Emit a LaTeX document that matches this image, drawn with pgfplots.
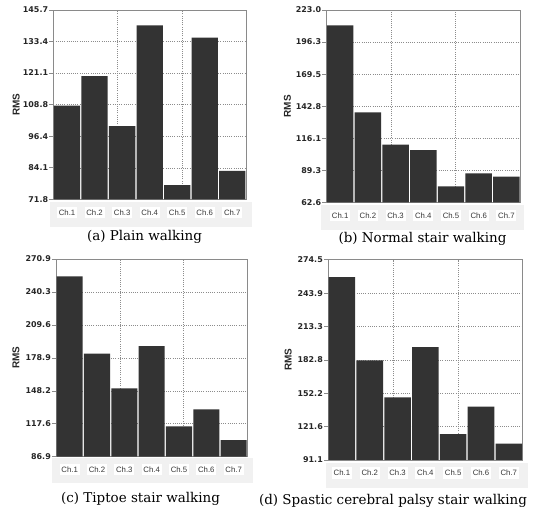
\documentclass[border=0pt]{standalone}
\usepackage{pgfplots}
\pgfplotsset{compat=1.18}
\usepackage{fontspec}
\setmainfont{DejaVu Serif}
\newfontfamily\tickf{DejaVu Sans}
\newfontfamily\labf{Liberation Sans}
\definecolor{barc}{HTML}{333333}
\definecolor{stripc}{HTML}{F1F1F1}
\definecolor{gridc}{HTML}{8C8C8C}
\definecolor{framec}{HTML}{8A8A8A}
\pgfplotsset{
  panel/.style={
    scale only axis, clip=true, anchor=south west,
    xmin=0.5, xmax=7.5, enlargelimits=false,
    xtick={1,...,7}, xticklabels={Ch.1,Ch.2,Ch.3,Ch.4,Ch.5,Ch.6,Ch.7},
    xtick style={draw=none},
    xticklabel style={font=\labf\fontsize{7.8}{8.5}\selectfont, text=black!78, fill=white,
      inner sep=0pt, minimum width=20bp, minimum height=11.5bp, anchor=center, yshift=-13bp},
    ytick pos=left, ytick align=outside, major tick length=4bp,
    ytick style={framec, line width=0.6bp},
    yticklabel style={font=\tickf\bfseries\fontsize{8}{9}\selectfont, inner sep=1bp, text=black!85},
    ymajorgrids=true, xmajorgrids=false,
    major grid style={gridc, dash pattern=on 1bp off 1.2bp, line width=0.5bp},
    extra x ticks={2.83333,5.16667}, extra x tick labels={},
    extra x tick style={xmajorgrids=true, tick style={draw=none},
      xticklabel style={fill=none, minimum width=0pt, minimum height=0pt}},
    axis line style={framec, line width=0.8bp},
    ylabel=RMS,
    ylabel style={font=\labf\bfseries\fontsize{10}{12}\selectfont, anchor=center, text=black!85},
  },
  bars/.style={ybar, bar width=0.955, fill=barc, draw=none},
}
\begin{document}
\begin{tikzpicture}
\useasboundingbox (0,0) rectangle (545bp,510bp);
\fill[stripc] (50bp,283.3bp) rectangle (252bp,308.3bp);
\fill[stripc] (321bp,280bp) rectangle (524bp,305bp);
\fill[stripc] (52bp,27bp) rectangle (253bp,52bp);
\fill[stripc] (326bp,22bp) rectangle (528bp,47bp);

% (a)
\begin{axis}[panel, at={(53.3bp,310.7bp)}, width=192.7bp, height=189.3bp,
  ymin=71.8, ymax=145.7,
  ytick={71.8,84.1,96.4,108.8,121.1,133.4,145.7},
  yticklabels={71.8,84.1,96.4,108.8,121.1,133.4,145.7},
  ylabel style={at={(axis description cs:-0.192,0.5)}}]
\addplot[bars] coordinates {(1,108.4) (2,119.9) (3,100.4) (4,139.7) (5,77.3) (6,134.9) (7,82.9)};
\end{axis}

% (b)
\begin{axis}[panel, at={(326.3bp,307.7bp)}, width=194bp, height=192.3bp,
  ymin=62.6, ymax=223.0,
  ytick={62.6,89.3,116.1,142.8,169.5,196.3,223.0},
  yticklabels={62.6,89.3,116.1,142.8,169.5,196.3,223.0},
  ylabel style={at={(axis description cs:-0.2,0.5)}}]
\addplot[bars] coordinates {(1,210.2) (2,137.7) (3,110.7) (4,106.2) (5,75.9) (6,86.8) (7,84.0)};
\end{axis}

% (c)
\begin{axis}[panel, at={(56bp,53.3bp)}, width=191.3bp, height=197.7bp,
  ymin=86.9, ymax=270.9,
  ytick={86.9,117.6,148.2,178.9,209.6,240.3,270.9},
  yticklabels={86.9,117.6,148.2,178.9,209.6,240.3,270.9},
  ylabel style={at={(axis description cs:-0.21,0.5)}}]
\addplot[bars] coordinates {(1,254.8) (2,182.8) (3,150.5) (4,189.9) (5,115.1) (6,131.0) (7,102.4)};
\end{axis}

% (d)
\begin{axis}[panel, at={(328bp,50bp)}, width=194.7bp, height=200.3bp,
  ymin=91.1, ymax=274.5,
  ytick={91.1,121.6,152.2,182.8,213.3,243.9,274.5},
  yticklabels={91.1,121.6,152.2,182.8,213.3,243.9,274.5},
  ylabel style={at={(axis description cs:-0.205,0.5)}}]
\addplot[bars] coordinates {(1,258.6) (2,182.3) (3,148.5) (4,194.5) (5,114.9) (6,139.9) (7,106.0)};
\end{axis}

\node[anchor=base, font=\fontsize{13.5}{15}\selectfont] at (144.5bp,269bp) {(a) Plain walking};
\node[anchor=base, font=\fontsize{13.5}{15}\selectfont] at (422.5bp,267.5bp) {(b) Normal stair walking};
\node[anchor=base, font=\fontsize{13.5}{15}\selectfont] at (140.5bp,8bp) {(c) Tiptoe stair walking};
\node[anchor=base, font=\fontsize{13.5}{15}\selectfont] at (393bp,6bp) {(d) Spastic cerebral palsy stair walking};
\end{tikzpicture}
\end{document}
